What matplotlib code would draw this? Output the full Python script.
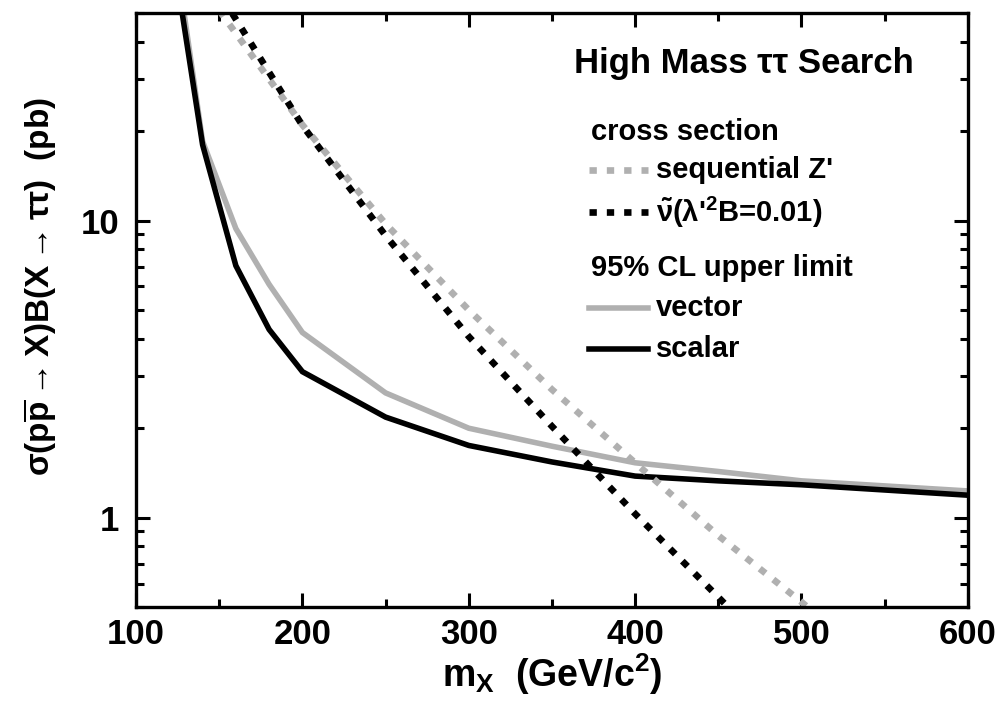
import numpy as np
import matplotlib
matplotlib.use("Agg")
import matplotlib.pyplot as plt
from matplotlib.ticker import LogLocator, FixedLocator, NullFormatter, FixedFormatter

plt.rcParams['font.family'] = ['Liberation Sans', 'DejaVu Sans']
plt.rcParams['font.weight'] = 'bold'
plt.rcParams['axes.labelweight'] = 'bold'
plt.rcParams['mathtext.fontset'] = 'custom'
plt.rcParams['mathtext.rm'] = 'Liberation Sans:bold'
plt.rcParams['mathtext.it'] = 'Liberation Sans:bold'
plt.rcParams['mathtext.bf'] = 'Liberation Sans:bold'
plt.rcParams['mathtext.default'] = 'regular'

# 95% CL upper limits
mass_lim = [120, 140, 160, 180, 200, 250, 300, 350, 400, 450, 500, 600]
vector = [110, 18.5, 9.4, 6.1, 4.2, 2.63, 2.0, 1.74, 1.53, 1.43, 1.33, 1.23]
scalar = [95, 18.0, 7.05, 4.3, 3.1, 2.18, 1.75, 1.54, 1.38, 1.33, 1.29, 1.19]

# theory cross sections
mass_th = [150, 200, 250, 300, 350, 400, 450, 500, 550]
zprime = [51, 21, 9.75, 5.0, 2.7, 1.53, 0.87, 0.52, 0.30]
sneutrino = [58.5, 20.9, 8.9, 4.07, 2.03, 1.03, 0.54, 0.28, 0.15]

gray = '#b0b0b0'

fig = plt.figure(figsize=(10.04, 7.01), dpi=100)
ax = fig.add_axes([0.1355, 0.134, 0.8285, 0.8475])

ax.plot(mass_lim, vector, color=gray, lw=4.0, solid_joinstyle='miter')
ax.plot(mass_lim, scalar, color='black', lw=4.0, solid_joinstyle='miter')
ax.plot(mass_th, zprime, color=gray, lw=4.8, dashes=(1.1, 1.5))
ax.plot(mass_th, sneutrino, color='black', lw=4.8, dashes=(1.1, 1.5))

ax.set_yscale('log')
ax.set_xlim(100, 600)
ax.set_ylim(0.5, 50)

ax.xaxis.set_major_locator(FixedLocator([100, 200, 300, 400, 500, 600]))
ax.xaxis.set_minor_locator(FixedLocator([150, 250, 350, 450, 550]))
ax.yaxis.set_major_locator(FixedLocator([1, 10]))
ax.yaxis.set_major_formatter(FixedFormatter(['1', '10']))
ax.yaxis.set_minor_locator(LogLocator(base=10, subs=np.arange(2, 10), numticks=10))
ax.yaxis.set_minor_formatter(NullFormatter())

ax.tick_params(which='both', direction='in', top=True, right=True, width=2.2,
               labelsize=25)
ax.tick_params(axis='x', pad=8)
ax.tick_params(axis='y', pad=12)
ax.tick_params(which='major', length=10)
ax.tick_params(which='minor', length=5.5)
for s in ax.spines.values():
    s.set_linewidth(2.4)

ax.set_xlabel(r"m$_{\rm X}$  (GeV/c$^{2}$)", fontsize=27, labelpad=0)
ax.set_ylabel(r"σ(p$\overline{\rm p}$$\rightarrow$X)B(X$\rightarrow$ττ)  (pb)",
              fontsize=24)
ax.yaxis.set_label_coords(-0.093, 0.54)

# legend block
ax.text(0.935, 0.915, "High Mass ττ Search", transform=ax.transAxes,
        fontsize=25, ha='right', va='center')
ax.text(0.547, 0.80, "cross section", transform=ax.transAxes,
        fontsize=21, ha='left', va='center')
ax.text(0.547, 0.57, "95% CL upper limit", transform=ax.transAxes,
        fontsize=21, ha='left', va='center')
labels = ["sequential Z'", r"$\tilde{\nu}$(λ'$^{2}$B=0.01)", "vector", "scalar"]
ypos = [0.735, 0.665, 0.503, 0.435]
styles = [(gray, (1.1, 1.5)), ('black', (1.1, 1.5)), (gray, None), ('black', None)]
for lab, yy, (c, d) in zip(labels, ypos, styles):
    if d is None:
        ax.plot([0.545, 0.615], [yy, yy], transform=ax.transAxes, color=c, lw=4.0)
    else:
        ax.plot([0.545, 0.615], [yy, yy], transform=ax.transAxes, color=c, lw=4.8, dashes=d)
    ax.text(0.625, yy, lab, transform=ax.transAxes, fontsize=21, ha='left', va='center')

fig.savefig("out.png", dpi=100)
